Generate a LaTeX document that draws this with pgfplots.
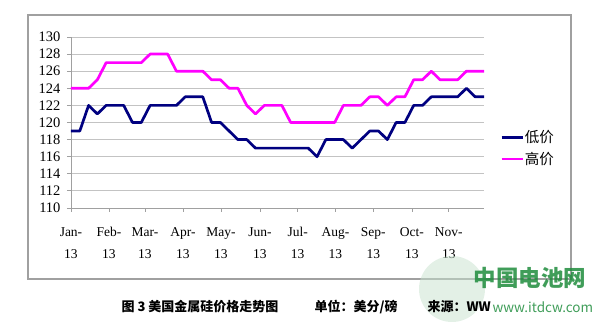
\documentclass[border=0pt]{standalone}
\usepackage{fontspec}
\setmainfont{Liberation Serif}
\newfontfamily\cjk{Noto Sans CJK SC}
\usepackage{pgfplots}
\pgfplotsset{compat=1.18}
\definecolor{lownavy}{RGB}{0,0,128}
\definecolor{highmag}{RGB}{255,0,255}
\definecolor{gridgray}{RGB}{195,195,195}
\definecolor{framegray}{RGB}{160,160,160}
\definecolor{wmgreen}{RGB}{30,140,60}
\begin{document}
\begin{tikzpicture}
\path[use as bounding box] (0pt,0pt) rectangle (595pt,329pt);
\draw[framegray, line width=1.3pt] (28pt,50pt) rectangle (571pt,314pt);
\begin{axis}[
  at={(71pt,121pt)}, anchor=south west, scale only axis,
  width=413pt, height=171pt,
  xmin=0, xmax=47, ymin=110, ymax=130,
  ytick={110,112,...,130},
  xtick={0,4.32,8.42,12.74,17.07,21.5,25.8,30.1,34.4,38.8,43.0},
  xticklabels={{Jan-\\13},{Feb-\\13},{Mar-\\13},{Apr-\\13},{May-\\13},{Jun-\\13},{Jul-\\13},{Aug-\\13},{Sep-\\13},{Oct-\\13},{Nov-\\13}},
  axis x line*=bottom, axis y line*=left,
  axis line style={draw=framegray, line width=0.8pt},
  tick style={draw=framegray, line width=0.8pt},
  tick align=outside, major tick length=4pt,
  ymajorgrids, grid style={draw=gridgray, line width=0.8pt},
  /pgf/number format/assume math mode=true,
  yticklabel style={font=\fontsize{14.5}{16}\selectfont, xshift=-3pt},
  xticklabel style={font=\fontsize{13.5}{22}\selectfont, align=center, yshift=-12pt},
  legend style={at={(1,0.35)}, anchor=west, xshift=13pt, draw=none, fill=none,
    font=\fontsize{14.5}{16}\selectfont, row sep=6pt,
    nodes={inner sep=1pt}},
  legend cell align=left,
  legend image code/.code={\draw[#1] (0pt,0pt) -- (21pt,0pt);},
  clip=false,
]
\addplot[lownavy, line width=2.7pt, line join=round] coordinates {
(0,119)(1,119)(2,122)(3,121)(4,122)(5,122)(6,122)(7,120)(8,120)(9,122)
(10,122)(11,122)(12,122)(13,123)(14,123)(15,123)(16,120)(17,120)(18,119)(19,118)
(20,118)(21,117)(22,117)(23,117)(24,117)(25,117)(26,117)(27,117)(28,116)(29,118)
(30,118)(31,118)(32,117)(33,118)(34,119)(35,119)(36,118)(37,120)(38,120)(39,122)
(40,122)(41,123)(42,123)(43,123)(44,123)(45,124)(46,123)(47,123)};
\addlegendentry{\cjk 低价}
\addplot[highmag, line width=2.7pt, line join=round] coordinates {
(0,124)(1,124)(2,124)(3,125)(4,127)(5,127)(6,127)(7,127)(8,127)(9,128)
(10,128)(11,128)(12,126)(13,126)(14,126)(15,126)(16,125)(17,125)(18,124)(19,124)
(20,122)(21,121)(22,122)(23,122)(24,122)(25,120)(26,120)(27,120)(28,120)(29,120)
(30,120)(31,122)(32,122)(33,122)(34,123)(35,123)(36,122)(37,123)(38,123)(39,125)
(40,125)(41,126)(42,125)(43,125)(44,125)(45,126)(46,126)(47,126)};
\addlegendentry{\cjk 高价}
\end{axis}
% watermark
\fill[wmgreen!25, opacity=0.5] (452pt,40pt) circle (33pt);
\node[anchor=center, text=wmgreen, opacity=0.85, font=\cjk\bfseries\fontsize{22.5}{24}\selectfont] at (530pt,51pt) {中国电池网};
\node[anchor=west, text=wmgreen, opacity=0.85, font=\cjk\fontsize{13.5}{15}\selectfont] at (489pt,22pt) {www.itdcw.com};
% caption
\node[anchor=west, font=\cjk\bfseries\fontsize{13}{14}\selectfont] at (118pt,22pt) {图 3 美国金属硅价格走势图};
\node[anchor=west, font=\cjk\bfseries\fontsize{13}{14}\selectfont] at (311pt,22pt) {单位：美分/磅};
\node[anchor=west, font=\cjk\bfseries\fontsize{13}{14}\selectfont] at (424pt,22pt) {来源：WW};
\end{tikzpicture}
\end{document}
